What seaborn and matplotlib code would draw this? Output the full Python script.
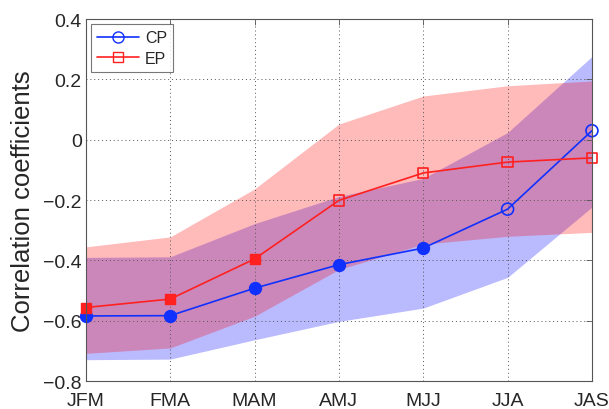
import numpy as np
import pandas as pd
import seaborn as sns
import matplotlib.pyplot as plt
from matplotlib.lines import Line2D

# ---------------------------------------------------------------
# Data
# ---------------------------------------------------------------
seasons = ["JFM", "FMA", "MAM", "AMJ", "MJJ", "JJA", "JAS"]

cp_corr = [-0.584, -0.583, -0.492, -0.414, -0.359, -0.230, 0.030]
cp_low = [-0.729, -0.727, -0.663, -0.602, -0.558, -0.456, -0.223]
cp_high = [-0.390, -0.388, -0.278, -0.188, -0.128, 0.024, 0.276]
cp_signif = [True, True, True, True, True, False, False]

ep_corr = [-0.556, -0.528, -0.395, -0.201, -0.110, -0.074, -0.060]
ep_low = [-0.708, -0.690, -0.585, -0.430, -0.346, -0.320, -0.307]
ep_high = [-0.355, -0.322, -0.163, 0.052, 0.145, 0.179, 0.195]
ep_signif = [True, True, True, False, False, False, False]

yticks = [-0.8, -0.6, -0.4, -0.2, 0, 0.2, 0.4]

# ---------------------------------------------------------------
# Style
# ---------------------------------------------------------------
sns.set_theme(style="white")
plt.rcParams["font.family"] = ["Liberation Sans", "DejaVu Sans"]

BLUE = "#1030ff"
RED = "#ff2020"

df = pd.DataFrame({
    "x": np.arange(len(seasons)),
    "season": seasons,
    "cp": cp_corr, "cp_low": cp_low, "cp_high": cp_high, "cp_sig": cp_signif,
    "ep": ep_corr, "ep_low": ep_low, "ep_high": ep_high, "ep_sig": ep_signif,
})

fig = plt.figure(figsize=(6.09, 4.10), dpi=100)
ax = fig.add_axes([0.141, 0.068, 0.831, 0.883])

# shaded ranges (blue first, red on top -> purple overlap)
ax.fill_between(df["x"], df["cp_low"], df["cp_high"], color="blue", alpha=0.27, lw=0, zorder=1)
ax.fill_between(df["x"], df["ep_low"], df["ep_high"], color="red", alpha=0.27, lw=0, zorder=1)

for key, col, mk, ms in [("cp", BLUE, "o", 74), ("ep", RED, "s", 55)]:
    sns.lineplot(data=df, x="x", y=key, color=col, lw=1.2, ax=ax, zorder=3)
    sig = df[df[key + "_sig"]]
    nsig = df[~df[key + "_sig"]]
    sns.scatterplot(data=sig, x="x", y=key, marker=mk, s=ms, color=col,
                    edgecolor=col, linewidth=1.0, ax=ax, zorder=4, clip_on=False)
    sns.scatterplot(data=nsig, x="x", y=key, marker=mk, s=ms, color=col,
                    facecolor="none", edgecolor=col, linewidth=1.2, ax=ax, zorder=4,
                    clip_on=False)

ax.set_xlim(0, len(seasons) - 1)
ax.set_ylim(-0.8, 0.4)
ax.set_xticks(df["x"])
ax.set_xticklabels(seasons)
ax.set_yticks(yticks)
ax.set_yticklabels([f"{v:g}".replace("-", "\u2212") for v in yticks])
ax.set_xlabel("")
ax.set_ylabel("Correlation coefficients", fontsize=18.5, labelpad=6)

ax.grid(True, color="#555555", linestyle=(0, (1, 3)), linewidth=0.7)
ax.set_axisbelow(False)
for sp in ax.spines.values():
    sp.set_color("#555555")
    sp.set_linewidth(0.8)
    sp.set_zorder(5)
ax.tick_params(direction="in", length=4, width=0.6, color="#555555",
               labelsize=14, top=True, right=True)
ax.tick_params(axis="x", pad=8)
ax.tick_params(axis="y", pad=3)

handles = [
    Line2D([0], [0], color=BLUE, marker="o", markerfacecolor="none", markersize=8, lw=1.2),
    Line2D([0], [0], color=RED, marker="s", markerfacecolor="none", markersize=7, lw=1.2),
]
leg = ax.legend(handles, ["CP", "EP"], loc="upper left", fontsize=11.5,
                frameon=True, fancybox=False, edgecolor="#555555",
                borderaxespad=0.3, handlelength=2.6, labelspacing=0.35,
                borderpad=0.4, handletextpad=0.4)
leg.get_frame().set_linewidth(0.8)

fig.savefig("out.png", dpi=100)
plt.close(fig)
